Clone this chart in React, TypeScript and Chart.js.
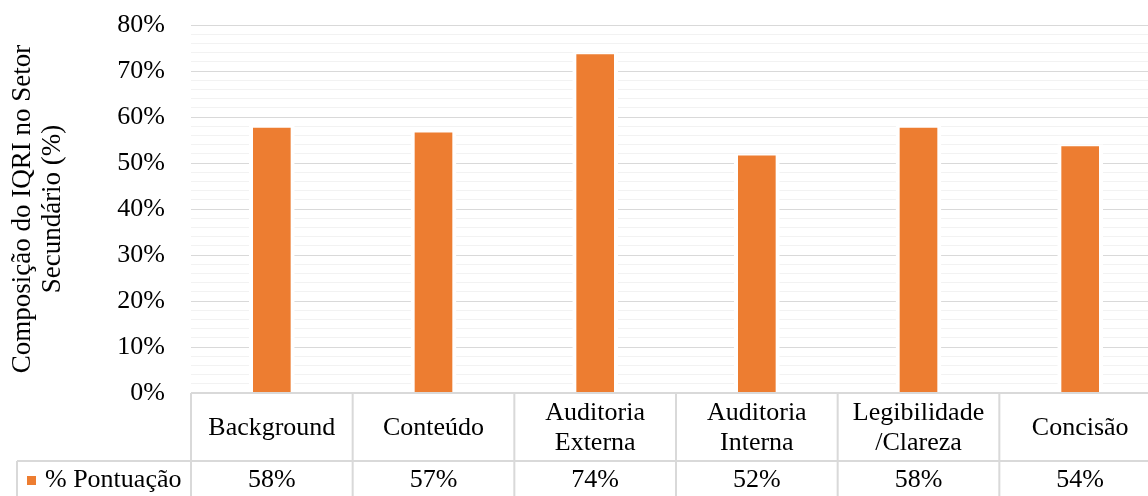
import React, { useEffect, useRef } from "react";
import { Chart, registerables } from "chart.js";

Chart.register(...registerables);

// Category labels (each entry split into the lines it is written on)
const categories: string[][] = [
  ["Background"],
  ["Conteúdo"],
  ["Auditoria", "Externa"],
  ["Auditoria", "Interna"],
  ["Legibilidade", "/Clareza"],
  ["Concisão"],
];
const seriesName = "% Pontuação";
const pontuacao: number[] = [58, 57, 74, 52, 58, 54];
const yTickValues: number[] = [0, 10, 20, 30, 40, 50, 60, 70, 80];
const yTitle: string[] = ["Composição do IQRI no Setor", "Secundário (%)"];

const FONT = '"Liberation Serif", "Times New Roman", serif';
const BAR_COLOR = "#ED7D31";
const LINE_COLOR = "#d9d9d9";

const dataTablePlugin = {
  id: "dataTable",
  afterDraw(chart: any) {
    const { ctx, chartArea } = chart;
    const { left, right, bottom } = chartArea;
    const n = categories.length;
    const colW = (right - left) / n;
    const headerBottom = bottom + 68;
    const tableBottom = chart.height;
    const tableLeft = 17;

    ctx.save();
    ctx.strokeStyle = LINE_COLOR;
    ctx.lineWidth = 2;
    ctx.beginPath();
    // top border (baseline of the plot)
    ctx.moveTo(left, bottom);
    ctx.lineTo(chart.width, bottom);
    // between header row and values row
    ctx.moveTo(tableLeft, headerBottom);
    ctx.lineTo(chart.width, headerBottom);
    // left borders
    ctx.moveTo(left, bottom);
    ctx.lineTo(left, tableBottom);
    ctx.moveTo(tableLeft, headerBottom);
    ctx.lineTo(tableLeft, tableBottom);
    // column separators
    for (let i = 1; i <= n; i++) {
      const x = left + colW * i;
      ctx.moveTo(x, bottom);
      ctx.lineTo(x, tableBottom);
    }
    ctx.stroke();

    ctx.fillStyle = "#000";
    ctx.font = `26px ${FONT}`;
    ctx.textAlign = "center";
    ctx.textBaseline = "middle";
    const headerMid = (bottom + headerBottom) / 2 + 1;
    const lineH = 30;
    categories.forEach((lines, i) => {
      const cx = left + colW * (i + 0.5);
      const y0 = headerMid - ((lines.length - 1) * lineH) / 2;
      lines.forEach((t, k) => ctx.fillText(t, cx, y0 + k * lineH));
    });

    const valueMid = headerBottom + 19;
    pontuacao.forEach((v, i) => {
      const cx = left + colW * (i + 0.5);
      ctx.fillText(`${v}%`, cx, valueMid);
    });

    // legend key + series name
    ctx.fillStyle = BAR_COLOR;
    ctx.fillRect(27, valueMid - 4, 9, 9);
    ctx.fillStyle = "#000";
    ctx.textAlign = "left";
    ctx.fillText(seriesName, 45, valueMid);
    ctx.restore();
  },
};

export default function App() {
  const canvasRef = useRef<HTMLCanvasElement | null>(null);

  useEffect(() => {
    const canvas = canvasRef.current;
    if (!canvas) return;
    const chart = new Chart(canvas, {
      type: "bar",
      data: {
        labels: categories.map((c) => c.join(" ")),
        datasets: [
          {
            label: seriesName,
            data: pontuacao,
            backgroundColor: BAR_COLOR,
            borderColor: "#ffffff",
            borderWidth: { left: 4, right: 4, top: 2, bottom: 0 },
            borderSkipped: "bottom",
            barThickness: 45,
          },
        ],
      },
      options: {
        responsive: false,
        animation: false,
        events: [],
        layout: { padding: { top: 25, bottom: 103, right: 9, left: 0 } },
        plugins: {
          legend: { display: false },
          tooltip: { enabled: false },
        },
        scales: {
          x: { display: false },
          y: {
            min: 0,
            max: 80,
            border: { display: false },
            afterFit(scale: any) {
              scale.width = 191;
            },
            ticks: {
              stepSize: 2,
              autoSkip: false,
              padding: 0,
              color: "#000",
              font: { family: FONT, size: 26 },
              callback: (v: any) =>
                yTickValues.includes(Number(v)) ? `${v}%` : "",
            },
            grid: {
              drawTicks: true,
              tickLength: 26,
              tickColor: "rgba(0,0,0,0)",
              lineWidth: 1,
              color: (c: any) =>
                yTickValues.includes(c.tick?.value) ? "#d9d9d9" : "#f2f2f2",
            },
            title: {
              display: true,
              text: yTitle,
              color: "#000",
              padding: { top: 8, bottom: 0 },
              font: { family: FONT, size: 27, lineHeight: 1.12 },
            },
          },
        },
      },
      plugins: [dataTablePlugin],
    });
    return () => chart.destroy();
  }, []);

  return (
    <div
      style={{
        position: "fixed",
        left: 0,
        top: 0,
        width: 1148,
        height: 496,
        overflow: "hidden",
        background: "#fff",
      }}
    >
      <canvas
        ref={canvasRef}
        width={1170}
        height={496}
        style={{ width: 1170, height: 496, display: "block" }}
      />
    </div>
  );
}
